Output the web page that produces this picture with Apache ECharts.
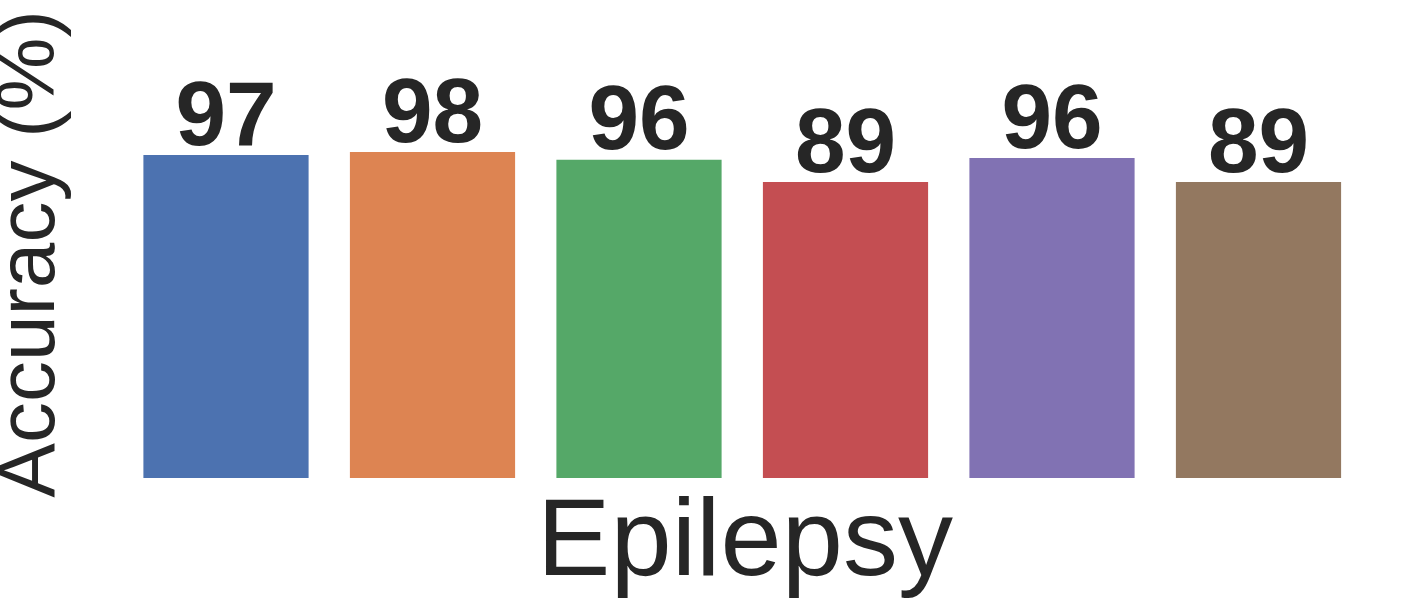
<!DOCTYPE html>
<html>
<head>
<meta charset="utf-8">
<style>
  html, body { margin: 0; padding: 0; background: #fff; }
  #main { width: 1401px; height: 609px; }
</style>
<script src="https://cdn.jsdelivr.net/npm/echarts@6/dist/echarts.min.js"></script>
</head>
<body>
<div id="main"></div>
<script>
// data
const categories = ['M1', 'M2', 'M3', 'M4', 'M5', 'M6']
const accuracy = [97.0, 97.9, 95.6, 88.9, 96.1, 88.9]
const barColors = ['#4c72b0', '#dd8452', '#55a868', '#c44e52', '#8172b3', '#937860']
const xTitle = 'Epilepsy'
const yTitle = 'Accuracy (%)'

const chart = echarts.init(document.getElementById('main'))
const font = '"Liberation Sans", Arial, sans-serif'

const option = {
  backgroundColor: '#ffffff',
  animation: false,
  color: barColors,
  grid: {
    left: 122.75,
    right: 39.25,
    top: 145,
    bottom: 131
  },
  xAxis: {
    type: 'category',
    data: categories,
    axisLine: { show: false },
    axisTick: { show: false },
    axisLabel: { show: false },
    splitLine: { show: false }
  },
  yAxis: {
    type: 'value',
    min: 0,
    max: 100,
    axisLine: { show: false },
    axisTick: { show: false },
    axisLabel: { show: false },
    splitLine: { show: false }
  },
  graphic: [
    {
      type: 'text',
      x: 745,
      y: 545,
      style: {
        text: xTitle,
        font: '110px ' + font,
        fill: '#262626',
        align: 'center',
        verticalAlign: 'middle'
      }
    },
    {
      type: 'text',
      x: 31,
      y: 254,
      rotation: Math.PI / 2,
      style: {
        text: yTitle,
        font: '82px ' + font,
        fill: '#262626',
        align: 'center',
        verticalAlign: 'middle'
      }
    }
  ],
  series: [
    {
      type: 'bar',
      colorBy: 'data',
      barWidth: '80%',
      data: accuracy,
      label: {
        show: true,
        position: 'top',
        distance: -10,
        formatter: p => Math.round(p.value),
        fontFamily: font,
        fontWeight: 'bold',
        fontSize: 91,
        color: '#262626'
      }
    }
  ]
}
chart.setOption(option)
</script>
</body>
</html>
